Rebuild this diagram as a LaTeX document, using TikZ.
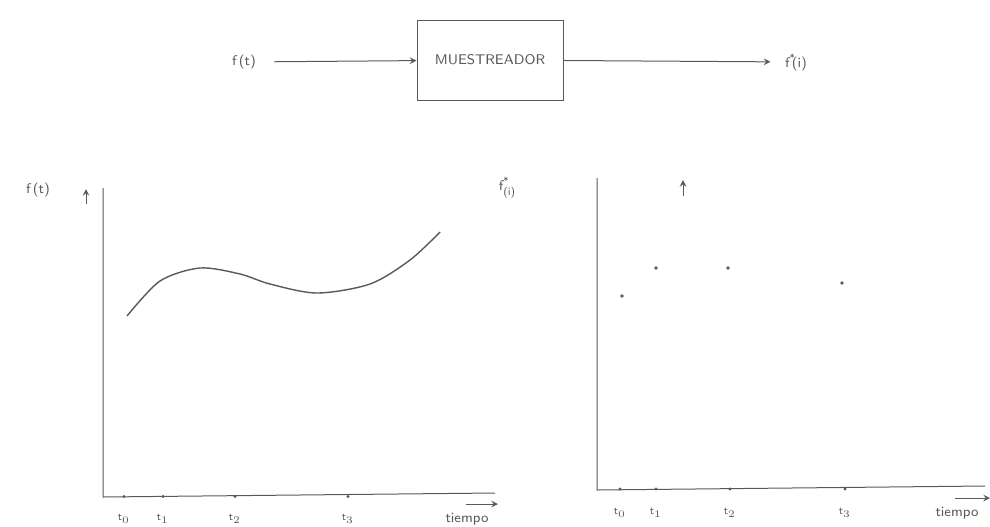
\documentclass[tikz,border=0pt]{standalone}
\usetikzlibrary{positioning}
\colorlet{ink}{black!65}
\tikzset{
  lbl/.style={text=ink,font=\sffamily\fontsize{7}{8}\selectfont,inner sep=1pt},
  tlbl/.style={text=ink,font=\sffamily\fontsize{5.5}{6}\selectfont,inner sep=1pt},
  bloque/.style={draw=ink,minimum width=73pt,minimum height=40pt,text=ink,font=\sffamily\fontsize{7}{8}\selectfont}
}
\begin{document}
\begin{tikzpicture}[x=0.5pt,y=-0.5pt,>=stealth,line width=0.5pt]
\useasboundingbox (0,0) rectangle (990,526);

% diagrama de bloques
\node[bloque] (mues) at (490,60) {MUESTREADOR};
\node[lbl] (fin) at (244,62) {f\,(t)};
\node[lbl] (fout) at (796,62) {f\rlap{\raisebox{3pt}{\fontsize{5}{5}\selectfont *}}\,(i)};
\draw[->,ink,shorten <=8pt] (fin) -- (mues);
\draw[->,ink,shorten >=6pt] (mues) -- (fout);

% grafica continua
\coordinate (o1) at (103,497);
\coordinate (y1) at (103,188);
\coordinate (x1) at (495,493);
\draw[ink] (y1)--(o1)--(x1);
\node[lbl] (fa) at (38,190) {f\,(t)};
\draw[->,ink] (86,204)--(86,189);
\draw[->,ink] (466,504)--(498,504);
\node[lbl] (tiem1) at (467,519) {tiempo};

\draw[ink,line width=0.7pt] plot[smooth] coordinates {(127,316) (160,281) (200,268) (240,274) (270,284) (317,293) (370,284) (410,260) (440,232)};

\foreach \x/\t in {124/0,163/1,235/2,348/3} {
  \fill[ink] (\x,496.5) circle (1.6);
  \node[tlbl] at (\x,519) {t$_{\t}$};
}

% grafica muestreada
\coordinate (o2) at (597,490);
\coordinate (y2) at (597,178);
\coordinate (x2) at (985,486);
\draw[ink] (y2)--(o2)--(x2);
\node[lbl] (fb) at (507,188) {f\rlap{\raisebox{3pt}{\fontsize{5}{5}\selectfont *}}\raisebox{-2.5pt}{\fontsize{5.5}{6}\selectfont (i)}};
\draw[->,ink] (683,196)--(683,180);
\draw[->,ink] (955,498)--(990,498);
\node[lbl] (tiem2) at (957,513) {tiempo};

\foreach \x/\y in {622/296,656/268,728/268,842/283} {
  \fill[ink] (\x,\y) circle (1.8);
}
\foreach \x/\t in {620/0,656/1,730/2,845/3} {
  \fill[ink] (\x,489) circle (1.6);
  \node[tlbl] at (\x,513) {t$_{\t}$};
}
\end{tikzpicture}
\end{document}
